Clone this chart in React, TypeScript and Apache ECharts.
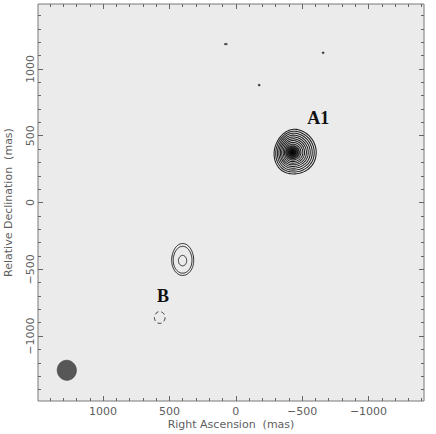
import React, { useEffect, useRef } from "react";
import * as echarts from "echarts";

// Axis ranges (mas); RA increases to the left
const raMin = -1418;
const raMax = 1490;
const decMin = -1486;
const decMax = 1486;

const labelTicks = [-1000, -500, 0, 500, 1000];
const minorTicks = [
  -1400, -1300, -1200, -1100, -1000, -900, -800, -700, -600, -500, -400, -300, -200, -100,
  0, 100, 200, 300, 400, 500, 600, 700, 800, 900, 1000, 1100, 1200, 1300, 1400,
];

// contour rings: [RA, Dec, rLeft, rRight, rTop, rBottom, tiltDeg]  (radii in mas, screen directions)
const a1Contours = [
  [-428, 375, 138, 178, 175, 160, 14],
  [-428, 375, 126, 163, 160, 146, 12],
  [-428, 375, 114, 148, 145, 132, 10],
  [-428, 375, 103, 133, 130, 118, 8],
  [-428, 375, 92, 118, 116, 105, 6],
  [-428, 375, 82, 104, 102, 93, 5],
  [-428, 375, 71, 90, 89, 81, 4],
  [-428, 375, 61, 77, 75, 69, 3],
  [-428, 375, 51, 63, 62, 57, 2],
  [-428, 375, 41, 50, 48, 45, 0],
  [-428, 375, 31, 37, 36, 34, 0],
];
// peak core: [RA, Dec, radius]
const a1Core = [[-428, 375, 66]];

const midContours = [
  [400, -434, 83, 83, 127, 112, 0],
  [400, -434, 71, 70, 106, 95, 0],
  [400, -436, 32, 30, 40, 38, 0],
];

const bContours = [[573, -861, 40, 40, 44, 44, 0]];

const blips = [
  [75, 1186, 12, 12, 5, 5, 0],
  [-176, 879, 7, 7, 7, 7, 0],
  [-658, 1121, 7, 7, 7, 7, 0],
];

const beam = [[1273, -1256, 72, 72, 75, 75, -8]];

const labelNames = ["A1", "B"];
const labelRA = [-621, 548];
const labelDec = [634, -700];

const fmt = (v: number) => (v < 0 ? "\u2212" + Math.abs(v) : String(v));

function ringRenderer(style: any) {
  return (params: any, api: any) => {
    const c = api.coord([api.value(0), api.value(1)]);
    const sz = api.size([100, 100]);
    const kx = Math.abs(sz[0]) / 100;
    const ky = Math.abs(sz[1]) / 100;
    const rl = api.value(2) * kx;
    const rr = api.value(3) * kx;
    const rt = api.value(4) * ky;
    const rb = api.value(5) * ky;
    const tilt = (api.value(6) * Math.PI) / 180;
    const pts: number[][] = [];
    const N = 90;
    for (let i = 0; i < N; i++) {
      const t = (2 * Math.PI * i) / N;
      const ux = Math.cos(t);
      const uy = Math.sin(t);
      const px = ux * (ux >= 0 ? rr : rl);
      const py = uy * (uy >= 0 ? rb : rt);
      const x = px * Math.cos(tilt) - py * Math.sin(tilt);
      const y = px * Math.sin(tilt) + py * Math.cos(tilt);
      pts.push([c[0] + x, c[1] + y]);
    }
    return { type: "polygon", shape: { points: pts }, style };
  };
}

export default function App() {
  const ref = useRef<HTMLDivElement>(null);
  useEffect(() => {
    if (!ref.current) return;
    const chart = echarts.init(ref.current, null, { renderer: "svg" });
    const tickColor = "#666";
    const axisFont = { fontFamily: "DejaVu Sans", fontSize: 11, color: "#5e5e5e" };
    const xBase = {
      type: "value",
      inverse: true,
      min: raMin,
      max: raMax,
      splitLine: { show: false },
      axisLine: { show: false, onZero: false },
    } as any;
    const yBase = {
      type: "value",
      min: decMin,
      max: decMax,
      splitLine: { show: false },
      axisLine: { show: false, onZero: false },
    } as any;
    const option: any = {
      animation: false,
      grid: {
        left: 38,
        right: 12,
        top: 4,
        bottom: 33,
        containLabel: false,
        outerBoundsMode: "none",
        show: true,
        backgroundColor: "#ebebeb",
        borderColor: "#7a7a7a",
        borderWidth: 1,
      },
      xAxis: [
        {
          ...xBase,
          position: "bottom",
          name: "Right Ascension  (mas)",
          nameLocation: "middle",
          nameGap: 18,
          nameMoveOverlap: false,
          nameTextStyle: { ...axisFont },
          axisTick: { inside: true, length: 5, customValues: labelTicks, lineStyle: { color: tickColor } },
          axisLabel: { ...axisFont, margin: 5, customValues: labelTicks, formatter: fmt },
        },
        {
          ...xBase,
          position: "bottom",
          axisTick: { inside: true, length: 3, customValues: minorTicks, lineStyle: { color: tickColor } },
          axisLabel: { show: false },
        },
        {
          ...xBase,
          position: "top",
          axisTick: { inside: true, length: 5, customValues: labelTicks, lineStyle: { color: tickColor } },
          axisLabel: { show: false },
        },
        {
          ...xBase,
          position: "top",
          axisTick: { inside: true, length: 3, customValues: minorTicks, lineStyle: { color: tickColor } },
          axisLabel: { show: false },
        },
      ],
      yAxis: [
        {
          ...yBase,
          position: "left",
          name: "Relative Declination  (mas)",
          nameLocation: "middle",
          nameRotate: 90,
          nameGap: 24,
          nameMoveOverlap: false,
          nameTextStyle: { ...axisFont },
          axisTick: { inside: true, length: 5, customValues: labelTicks, lineStyle: { color: tickColor } },
          axisLabel: { ...axisFont, margin: 2, rotate: 90, customValues: labelTicks, formatter: fmt },
        },
        {
          ...yBase,
          position: "left",
          axisTick: { inside: true, length: 3, customValues: minorTicks, lineStyle: { color: tickColor } },
          axisLabel: { show: false },
        },
        {
          ...yBase,
          position: "right",
          axisTick: { inside: true, length: 5, customValues: labelTicks, lineStyle: { color: tickColor } },
          axisLabel: { show: false },
        },
        {
          ...yBase,
          position: "right",
          axisTick: { inside: true, length: 3, customValues: minorTicks, lineStyle: { color: tickColor } },
          axisLabel: { show: false },
        },
      ],
      series: [
        {
          type: "custom",
          xAxisIndex: 0,
          yAxisIndex: 0,
          silent: true,
          renderItem: (params: any, api: any) => {
            const c = api.coord([api.value(0), api.value(1)]);
            const r = (Math.abs(api.size([100, 100])[0]) / 100) * api.value(2);
            return {
              type: "circle",
              shape: { cx: c[0], cy: c[1], r },
              style: {
                fill: {
                  type: "radial",
                  x: 0.5,
                  y: 0.5,
                  r: 0.5,
                  colorStops: [
                    { offset: 0, color: "#000" },
                    { offset: 0.35, color: "#111" },
                    { offset: 0.7, color: "rgba(40,40,40,0.75)" },
                    { offset: 1, color: "rgba(80,80,80,0)" },
                  ],
                },
              },
            };
          },
          data: a1Core,
        },
        {
          type: "custom",
          xAxisIndex: 0,
          yAxisIndex: 0,
          silent: true,
          renderItem: ringRenderer({ fill: "#575757", stroke: "#4a4a4a", lineWidth: 0.8 }),
          data: beam,
        },
        {
          type: "custom",
          xAxisIndex: 0,
          yAxisIndex: 0,
          silent: true,
          renderItem: ringRenderer({ fill: "none", stroke: "#1e1e1e", lineWidth: 1.05 }),
          data: a1Contours,
        },
        {
          type: "custom",
          xAxisIndex: 0,
          yAxisIndex: 0,
          silent: true,
          renderItem: ringRenderer({ fill: "none", stroke: "#222", lineWidth: 1 }),
          data: midContours,
        },
        {
          type: "custom",
          xAxisIndex: 0,
          yAxisIndex: 0,
          silent: true,
          renderItem: ringRenderer({ fill: "none", stroke: "#222", lineWidth: 1, lineDash: [4, 3] }),
          data: bContours,
        },
        {
          type: "custom",
          xAxisIndex: 0,
          yAxisIndex: 0,
          silent: true,
          renderItem: ringRenderer({ fill: "#333", stroke: "#333", lineWidth: 0.6 }),
          data: blips,
        },
        {
          type: "custom",
          xAxisIndex: 0,
          yAxisIndex: 0,
          silent: true,
          renderItem: (params: any, api: any) => {
            const i = params.dataIndex;
            const c = api.coord([labelRA[i], labelDec[i]]);
            return {
              type: "text",
              x: c[0],
              y: c[1],
              style: {
                text: labelNames[i],
                fontFamily: "Liberation Serif",
                fontWeight: "bold",
                fontSize: 18,
                fill: "#111",
                align: "center",
                verticalAlign: "middle",
              },
            };
          },
          data: labelNames.map((_, i) => [labelRA[i], labelDec[i]]),
        },
      ],
    };
    chart.setOption(option);
    return () => chart.dispose();
  }, []);
  return (
    <div
      ref={ref}
      style={{ position: "absolute", left: 0, top: 0, width: 436, height: 434, background: "#fff" }}
    />
  );
}
